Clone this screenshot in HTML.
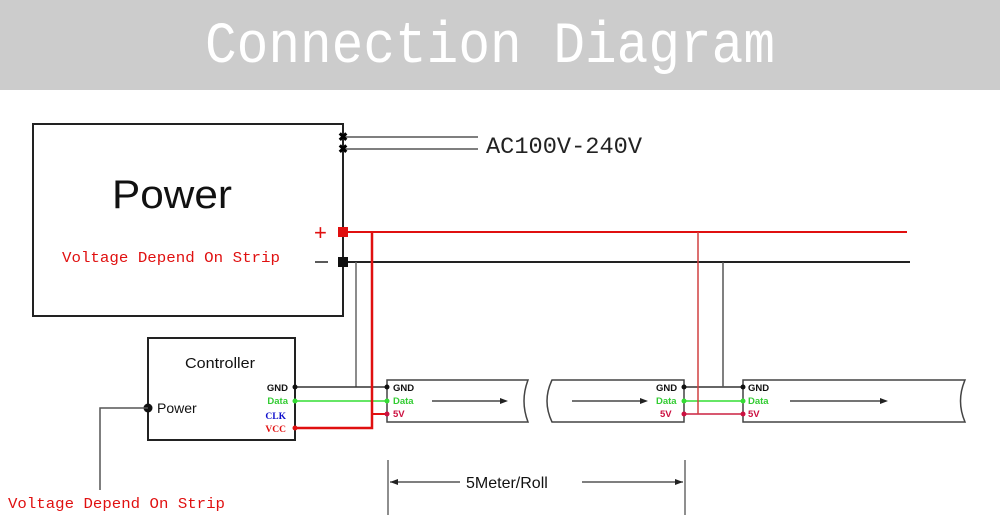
<!DOCTYPE html>
<html><head><style>body{margin:0;background:#fff}svg{display:block}</style></head><body>
<svg width="1000" height="525" viewBox="0 0 1000 525" xmlns="http://www.w3.org/2000/svg">
<rect x="0" y="0" width="1000" height="90" fill="#cccccc"/>
<text x="205" y="62" font-family="Liberation Mono, monospace" font-size="58" fill="#fff" textLength="570" lengthAdjust="spacingAndGlyphs">Connection Diagram</text>

<!-- Power box -->
<rect x="33" y="124" width="310" height="192" fill="none" stroke="#222" stroke-width="2"/>
<text x="112" y="208" font-family="Liberation Sans, sans-serif" font-size="40" fill="#111" textLength="120" lengthAdjust="spacingAndGlyphs">Power</text>
<text x="62" y="262" font-family="Liberation Mono, monospace" font-size="15" fill="#e01010" textLength="218" lengthAdjust="spacingAndGlyphs">Voltage Depend On Strip</text>
<line x1="343" y1="137" x2="478" y2="137" stroke="#555" stroke-width="1.5"/>
<line x1="343" y1="149" x2="478" y2="149" stroke="#555" stroke-width="1.5"/>
<text x="343" y="141" font-family="Liberation Sans" font-size="12" text-anchor="middle" font-weight="bold">✖</text>
<text x="343" y="153" font-family="Liberation Sans" font-size="12" text-anchor="middle" font-weight="bold">✖</text>
<text x="486" y="153" font-family="Liberation Mono, monospace" font-size="23" fill="#222" textLength="156" lengthAdjust="spacingAndGlyphs">AC100V-240V</text>

<text x="314" y="240" font-family="Liberation Sans" font-size="22" fill="#e01010">+</text>
<line x1="315" y1="262" x2="328" y2="262" stroke="#222" stroke-width="1.5"/>
<line x1="343" y1="232" x2="907" y2="232" stroke="#e01010" stroke-width="2"/>
<line x1="343" y1="262" x2="910" y2="262" stroke="#222" stroke-width="2"/>
<rect x="338" y="227" width="10" height="10" fill="#e01010"/>
<rect x="338" y="257" width="10" height="10" fill="#111"/>

<!-- Controller -->
<rect x="148" y="338" width="147" height="102" fill="none" stroke="#222" stroke-width="2"/>
<text x="185" y="368" font-family="Liberation Sans, sans-serif" font-size="15" fill="#111" textLength="70" lengthAdjust="spacingAndGlyphs">Controller</text>
<text x="157" y="413" font-family="Liberation Sans, sans-serif" font-size="14" fill="#111">Power</text>
<circle cx="148" cy="408" r="4.5" fill="#111"/>
<polyline points="148,408 100,408 100,490" fill="none" stroke="#555" stroke-width="1.5"/>
<text x="8" y="508" font-family="Liberation Mono, monospace" font-size="15" fill="#e01010" textLength="217" lengthAdjust="spacingAndGlyphs">Voltage Depend On Strip</text>
<g font-family="Liberation Sans, sans-serif" font-size="9.5" font-weight="bold" text-anchor="end">
<text x="288" y="391" fill="#111">GND</text>
<text x="288" y="404" fill="#33cc33">Data</text>
<text x="286" y="419" fill="#1010cc" font-family="Liberation Serif, serif">CLK</text>
<text x="286" y="432" fill="#e01010" font-family="Liberation Serif, serif">VCC</text>
</g>

<!-- wires to strip1 -->
<polyline points="356,262 356,387" fill="none" stroke="#666" stroke-width="1.5"/>
<line x1="295" y1="387" x2="387" y2="387" stroke="#333" stroke-width="1.5"/>
<line x1="295" y1="401" x2="387" y2="401" stroke="#33dd33" stroke-width="1.5"/>
<polyline points="372,232 372,428 295,428" fill="none" stroke="#e01010" stroke-width="2.5"/>
<line x1="372" y1="414" x2="387" y2="414" stroke="#e01010" stroke-width="2"/>
<circle cx="295" cy="387" r="2.5" fill="#111"/><circle cx="295" cy="401" r="2.5" fill="#33dd33"/><circle cx="295" cy="428" r="2.5" fill="#e01010"/>

<!-- strips -->
<path d="M387,380 H528 Q520,401 528,422 H387 Z" fill="none" stroke="#444" stroke-width="1.5"/>
<path d="M684,380 H552 Q542,401 552,422 H684 Z" fill="none" stroke="#444" stroke-width="1.5"/>
<path d="M743,380 H965 Q956,401 965,422 H743 Z" fill="none" stroke="#444" stroke-width="1.5"/>
<g font-family="Liberation Sans, sans-serif" font-size="9.5" font-weight="bold">
<text x="393" y="391" fill="#111">GND</text><text x="393" y="404" fill="#33cc33">Data</text><text x="393" y="417" fill="#cc1040">5V</text>
<text x="656" y="391" fill="#111">GND</text><text x="656" y="404" fill="#33cc33">Data</text><text x="660" y="417" fill="#cc1040">5V</text>
<text x="748" y="391" fill="#111">GND</text><text x="748" y="404" fill="#33cc33">Data</text><text x="748" y="417" fill="#cc1040">5V</text>
</g>
<g stroke="#222" stroke-width="1.2">
<line x1="432" y1="401" x2="500" y2="401"/><line x1="572" y1="401" x2="640" y2="401"/><line x1="790" y1="401" x2="880" y2="401"/>
</g>
<g fill="#222"><path d="M500,398 L508,401 500,404Z"/><path d="M640,398 L648,401 640,404Z"/><path d="M880,398 L888,401 880,404Z"/></g>

<!-- links strip2-3 -->
<line x1="684" y1="387" x2="743" y2="387" stroke="#333" stroke-width="1.5"/>
<line x1="684" y1="401" x2="743" y2="401" stroke="#33dd33" stroke-width="1.5"/>
<line x1="684" y1="414" x2="743" y2="414" stroke="#cc2040" stroke-width="1.5"/>
<line x1="698" y1="232" x2="698" y2="414" stroke="#d04040" stroke-width="1.5"/>
<line x1="723" y1="262" x2="723" y2="387" stroke="#555" stroke-width="1.5"/>
<g><circle cx="387" cy="387" r="2.5" fill="#111"/><circle cx="387" cy="401" r="2.5" fill="#33dd33"/><circle cx="387" cy="414" r="2.5" fill="#cc1040"/>
<circle cx="684" cy="387" r="2.5" fill="#111"/><circle cx="684" cy="401" r="2.5" fill="#33dd33"/><circle cx="684" cy="414" r="2.5" fill="#cc1040"/>
<circle cx="743" cy="387" r="2.5" fill="#111"/><circle cx="743" cy="401" r="2.5" fill="#33dd33"/><circle cx="743" cy="414" r="2.5" fill="#cc1040"/></g>

<!-- dimension -->
<line x1="388" y1="460" x2="388" y2="515" stroke="#444" stroke-width="1.2"/>
<line x1="685" y1="460" x2="685" y2="515" stroke="#444" stroke-width="1.2"/>
<line x1="390" y1="482" x2="460" y2="482" stroke="#333" stroke-width="1.2"/>
<line x1="582" y1="482" x2="683" y2="482" stroke="#333" stroke-width="1.2"/>
<path d="M390,482 L398,479 398,485Z" fill="#222"/><path d="M683,482 L675,479 675,485Z" fill="#222"/>
<text x="466" y="488" font-family="Liberation Sans, sans-serif" font-size="16" fill="#111">5Meter/Roll</text>
</svg>
</body></html>
